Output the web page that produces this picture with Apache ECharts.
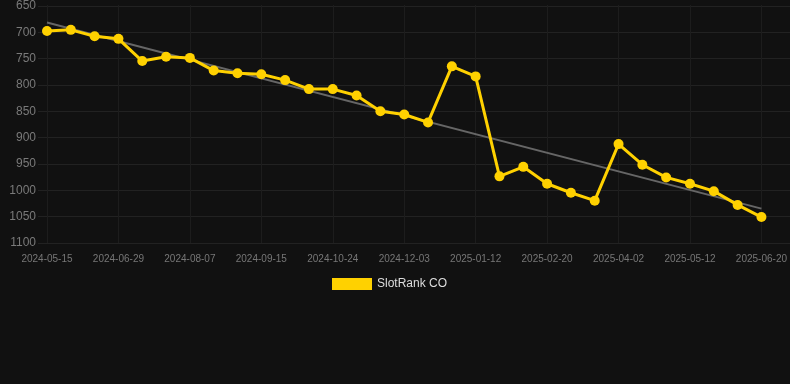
<!DOCTYPE html>
<html>
<head>
<meta charset="utf-8">
<script src="https://cdn.jsdelivr.net/npm/echarts@6/dist/echarts.min.js"></script>
<style>
html,body{margin:0;padding:0;background:#111111;}
#c{width:790px;height:384px;}
</style>
</head>
<body>
<div id="c"></div>
<script>
var categories = ['2024-05-15','2024-05-30','2024-06-14','2024-06-29','2024-07-12','2024-07-25','2024-08-07','2024-08-20','2024-09-02','2024-09-15','2024-09-28','2024-10-11','2024-10-24','2024-11-06','2024-11-20','2024-12-03','2024-12-16','2024-12-29','2025-01-12','2025-01-25','2025-02-07','2025-02-20','2025-03-05','2025-03-19','2025-04-02','2025-04-15','2025-04-28','2025-05-12','2025-05-25','2025-06-07','2025-06-20'];
var rankValues = [699,697,709,714,756,748,750,774,779,781,792,809,809,821,851,857,872,766,785,974,956,988,1005,1020,913,952,976,988,1002,1028,1051];
var trendEnds = [[0,683],[30,1035]];
var yTicks = [650,700,750,800,850,900,950,1000,1050,1100];

var chart = echarts.init(document.getElementById('c'));
chart.setOption({
  backgroundColor:'#111111',
  animation:false,
  grid:[
    {left:38,right:0,top:5,bottom:141},
    {left:47,right:28,top:5,bottom:141}
  ],
  legend:{
    top:278,left:332,padding:0,itemWidth:40,itemHeight:12,itemGap:10,
    textStyle:{color:'#dddddd',fontSize:12,fontFamily:'Arial, Liberation Sans, sans-serif'},
    data:[{name:'SlotRank CO',icon:'rect',itemStyle:{color:'#ffd100'}}]
  },
  xAxis:[
    {gridIndex:0,type:'value',min:0,max:1,show:false},
    {gridIndex:1,type:'category',data:categories,boundaryGap:false,
     axisLine:{show:false},axisTick:{show:false},
     axisLabel:{interval:2,color:'#777777',fontSize:10,margin:11,fontFamily:'Arial, Liberation Sans, sans-serif'},
     splitLine:{show:true,interval:2,lineStyle:{color:'#1d1d1d',width:1}}}
  ],
  yAxis:[
    {gridIndex:0,type:'value',inverse:true,min:yTicks[0],max:yTicks[yTicks.length-1],interval:50,
     axisLine:{show:false},axisTick:{show:false},
     axisLabel:{color:'#7a7a7a',fontSize:12,margin:2,fontFamily:'Arial, Liberation Sans, sans-serif',
       formatter:function(v){return String(v);}},
     splitLine:{show:true,lineStyle:{color:'#222222',width:1}}},
    {gridIndex:1,type:'value',inverse:true,min:yTicks[0],max:yTicks[yTicks.length-1],interval:50,show:false,
     splitLine:{show:false}}
  ],
  series:[
    {name:'Trend',type:'line',xAxisIndex:1,yAxisIndex:1,data:trendEnds,symbol:'none',
     lineStyle:{color:'#666666',width:2},z:2,silent:true},
    {name:'SlotRank CO',type:'line',xAxisIndex:1,yAxisIndex:1,data:rankValues,
     symbol:'circle',symbolSize:10,showSymbol:true,
     lineStyle:{color:'#ffd100',width:3},itemStyle:{color:'#ffd100'},z:3}
  ]
});
</script>
</body>
</html>
